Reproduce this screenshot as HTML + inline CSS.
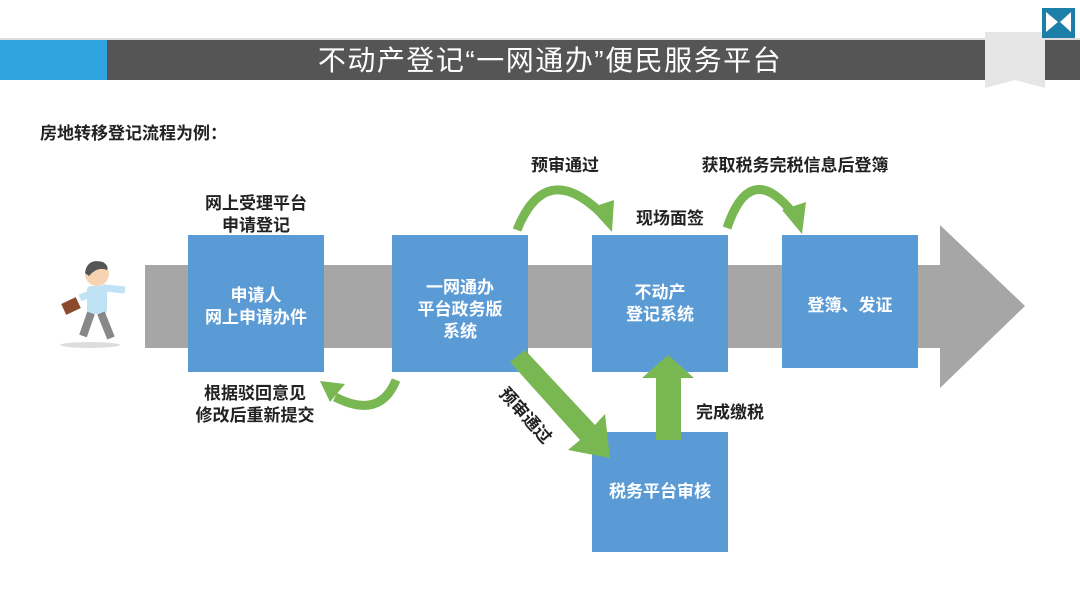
<!DOCTYPE html>
<html><head><meta charset="utf-8"><style>
body{margin:0;width:1080px;height:608px;background:#fff;position:relative;overflow:hidden;font-family:"Liberation Sans","Noto Sans CJK SC",sans-serif}
.a{position:absolute}
.t{position:absolute;font-weight:bold;font-size:17px;color:#222;text-align:center;line-height:22px;white-space:nowrap}
.b{position:absolute;background:#5b9bd5;color:#fff;font-weight:bold;font-size:17px;display:flex;align-items:center;justify-content:center;text-align:center;line-height:22px}
</style></head><body>
<div class="a" style="left:0;top:40px;width:107px;height:40px;background:#2ea3dd"></div>
<div class="a" style="left:107px;top:40px;width:973px;height:40px;background:#555"></div>
<div class="a" style="left:0;top:38px;width:1080px;height:2px;background:#ddd"></div>
<div class="a" style="left:150px;top:42px;width:800px;height:36px;color:#fff;font-size:28px;letter-spacing:1.5px;text-align:center;line-height:38px">不动产登记“一网通办”便民服务平台</div>
<svg class="a" style="left:0;top:0" width="1080" height="608">
<polygon points="985,32 1045,32 1045,88 1015,80 985,88" fill="#e6e6e6"/>
<polygon points="1042,8 1075,8 1075,38 1042,38" fill="#1b7fa8"/>
<polygon points="1046,12 1058,22 1046,32" fill="#fff"/>
<polygon points="1071,12 1060,22 1071,32" fill="#fff"/>
<polygon points="145,265 940,265 940,225 1025,306 940,388 940,348 145,348" fill="#a6a6a6"/>
<g fill="none" stroke="#78b751" stroke-width="9">
<path d="M396,380 Q380,420 335,397"/>
<path d="M517,230 Q545,160 600,212"/>
<path d="M727,228 Q750,160 792,212"/>
</g>
<polygon points="320,381 345,384 330,402" fill="#78b751"/>
<polygon points="590,208 614,200 612,232" fill="#78b751"/>
<polygon points="782,210 806,202 802,234" fill="#78b751"/>
<g transform="translate(75,258)">
<ellipse cx="15" cy="87" rx="30" ry="3" fill="#ddd"/>
<path d="M5,40 L30,30 L50,32" stroke="#bfe3f5" stroke-width="7" fill="none"/>
<rect x="12" y="28" width="20" height="28" rx="4" fill="#bfe3f5"/>
<path d="M16,55 L8,78 M26,55 L36,80" stroke="#888" stroke-width="8"/>
<circle cx="22" cy="16" r="12" fill="#f5d3b3"/>
<path d="M10,15 Q12,0 28,4 Q34,8 32,12 Q22,8 14,18Z" fill="#555"/>
<rect x="-12" y="42" width="16" height="12" fill="#8b4a2b" transform="rotate(-25 -4 48)"/>
</g>
</svg>
<div class="t" style="left:40px;top:123px;font-size:17px;text-align:left">房地转移登记流程为例：</div>
<div class="b" style="left:188px;top:235px;width:136px;height:137px;padding-top:6px;box-sizing:border-box">申请人<br>网上申请办件</div>
<div class="b" style="left:392px;top:235px;width:136px;height:137px;padding-top:12px;box-sizing:border-box">一网通办<br>平台政务版<br>系统</div>
<div class="b" style="left:592px;top:235px;width:136px;height:137px">不动产<br>登记系统</div>
<div class="b" style="left:782px;top:235px;width:136px;height:133px;padding-top:8px;box-sizing:border-box">登簿、发证</div>
<div class="b" style="left:592px;top:432px;width:136px;height:120px">税务平台审核</div>
<svg class="a" style="left:0;top:0" width="1080" height="608">
<polygon points="510,362 525,350 595,425 605,414 610,458 568,450 580,440" fill="#78b751"/>
<polygon points="656,440 681,440 681,378 694,378 668,355 642,378 656,378" fill="#78b751"/>
</svg>
<div class="t" style="left:181px;top:193px;width:150px">网上受理平台<br>申请登记</div>
<div class="t" style="left:175px;top:383px;width:160px">根据驳回意见<br>修改后重新提交</div>
<div class="t" style="left:520px;top:155px;width:90px">预审通过</div>
<div class="t" style="left:625px;top:208px;width:90px">现场面签</div>
<div class="t" style="left:685px;top:155px;width:220px">获取税务完税信息后登簿</div>
<div class="t" style="left:690px;top:402px;width:80px">完成缴税</div>
<div class="t" style="left:480px;top:405px;width:90px;transform:rotate(48deg)">预审通过</div>
</body></html>
